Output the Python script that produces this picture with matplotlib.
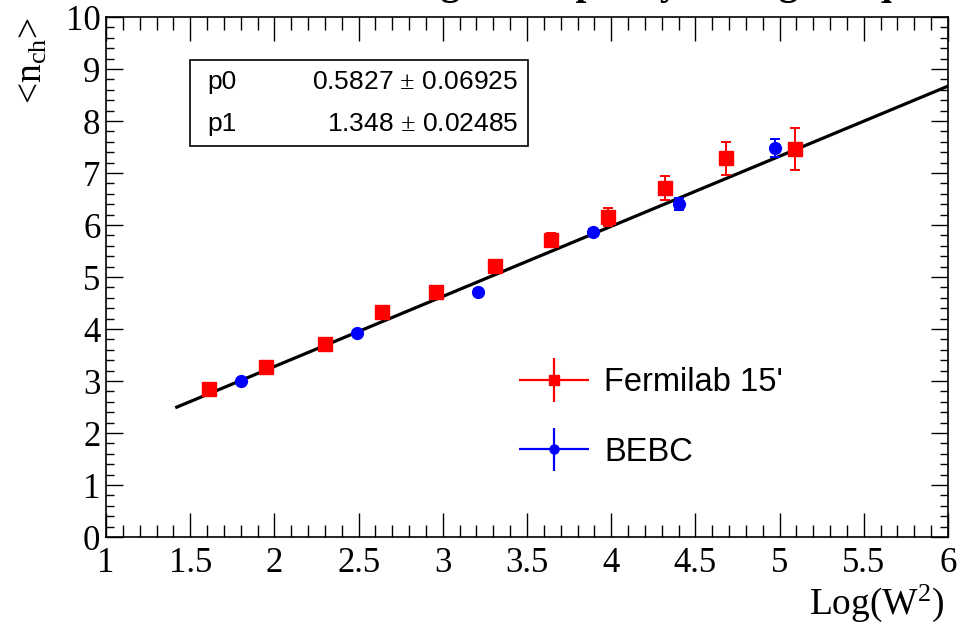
import numpy as np
import matplotlib
matplotlib.use("Agg")
from matplotlib import pyplot as plt
from matplotlib.legend_handler import HandlerErrorbar
from matplotlib.patches import Rectangle
from matplotlib.ticker import MultipleLocator

# Fermilab 15' bubble chamber points
fermi_x = [1.61, 1.95, 2.30, 2.64, 2.96, 3.31, 3.64, 3.98, 4.32, 4.68, 5.09]
fermi_y = [2.84, 3.26, 3.71, 4.32, 4.72, 5.22, 5.71, 6.15, 6.72, 7.28, 7.46]
fermi_err = [0.04, 0.05, 0.05, 0.06, 0.07, 0.09, 0.13, 0.17, 0.23, 0.32, 0.40]

# BEBC points
bebc_x = [1.80, 2.49, 3.21, 3.89, 4.40, 4.97]
bebc_y = [3.00, 3.92, 4.71, 5.87, 6.40, 7.48]
bebc_err = [0.03, 0.04, 0.05, 0.06, 0.12, 0.17]

# linear fit result
p0, p0_err = 0.5827, 0.06925
p1, p1_err = 1.348, 0.02485
fit_range = (1.42, 6.0)

x_lim = (1, 6)
y_lim = (0, 10)

plt.rcParams['mathtext.fontset'] = 'custom'
plt.rcParams['mathtext.rm'] = 'Liberation Serif'
plt.rcParams['mathtext.it'] = 'Liberation Serif:italic'

W, H = 959, 623
fig = plt.figure(figsize=(W / 100, H / 100), dpi=100)
ax = fig.add_axes([106 / W, 1 - 537 / H, (948 - 106) / W, (537 - 17) / H])

# fit line
xf = np.linspace(fit_range[0], fit_range[1], 200)
ax.plot(xf, p0 + p1 * xf, color='black', lw=2.3, zorder=2)

fermi = ax.errorbar(fermi_x, fermi_y, yerr=fermi_err, fmt='s', color='#ff0000',
                    ms=9.5, elinewidth=1.4, capsize=3.5, capthick=1.4, zorder=3)
bebc = ax.errorbar(bebc_x, bebc_y, yerr=bebc_err, fmt='o', color='#0000ff',
                   ms=8.5, elinewidth=1.4, capsize=3.5, capthick=1.4, zorder=3)

# legend handles with both error directions, like ROOT's "lep" option
h1 = ax.errorbar([np.nan], [np.nan], xerr=[1], yerr=[1], fmt='s', color='#ff0000',
                 ms=6.5, elinewidth=1.6)
h2 = ax.errorbar([np.nan], [np.nan], xerr=[1], yerr=[1], fmt='o', color='#0000ff',
                 ms=6.5, elinewidth=1.6)
leg = ax.legend([h1, h2], ["Fermilab 15'", "BEBC"], frameon=False,
                prop={'family': 'Liberation Sans', 'size': 23.5},
                handler_map={type(h1): HandlerErrorbar(xerr_size=1.07, yerr_size=0.67)},
                handlelength=2.18, handletextpad=0.46, labelspacing=1.19,
                loc='upper left', bbox_to_anchor=(505 / W, 1 - 354 / H),
                bbox_transform=fig.transFigure, borderaxespad=0)

ax.set_xlim(*x_lim)
ax.set_ylim(*y_lim)
ax.xaxis.set_major_locator(MultipleLocator(0.5))
ax.xaxis.set_minor_locator(MultipleLocator(0.1))
ax.yaxis.set_major_locator(MultipleLocator(1))
ax.yaxis.set_minor_locator(MultipleLocator(0.2))
ax.tick_params(which='both', direction='in', top=True, right=True, width=1.0,
               labelsize=25, labelfontfamily='Liberation Serif')
ax.tick_params(axis='x', which='major', length=17, pad=7)
ax.tick_params(axis='x', which='minor', length=9)
ax.tick_params(axis='y', which='major', length=12, pad=4)
ax.tick_params(axis='y', which='minor', length=6)
ax.xaxis.set_major_formatter(plt.FuncFormatter(lambda v, p: '%g' % v))
for s in ax.spines.values():
    s.set_linewidth(1.2)

# stat box
ax.add_patch(Rectangle((190 / W, 1 - 146 / H), (528 - 190) / W, (146 - 60) / H,
                       transform=fig.transFigure, facecolor='white',
                       edgecolor='black', lw=1.2, zorder=5))
sfont = dict(family='Liberation Sans', size=19, zorder=6, va='center')
fig.text(207 / W, 1 - 82 / H, 'p0', ha='left', **sfont)
fig.text(518 / W, 1 - 82 / H, '%.4f $\\pm$ %.5f' % (p0, p0_err), ha='right', **sfont)
fig.text(207 / W, 1 - 124 / H, 'p1', ha='left', **sfont)
fig.text(518 / W, 1 - 124 / H, '%.3f $\\pm$ %.5f' % (p1, p1_err), ha='right', **sfont)

# axis titles
fig.text(945 / W, 1 - 603 / H, r'Log(W$^{2}$)', ha='right', va='center',
         family='Liberation Serif', size=27)
fig.text(32 / W, 1 - 60 / H, r'<n$_{\mathrm{ch}}$>', ha='center', va='center',
         rotation=90, family='Liberation Serif', size=27)

# title: only the descenders peek in at the top edge, as in the reference
fig.text(665 / W, 1 - 3 / H, 'Average multiplicity vs Log W squared',
         ha='center', va='bottom', family='Liberation Serif', size=28,
         weight='bold')

fig.savefig('out.png', dpi=100)
